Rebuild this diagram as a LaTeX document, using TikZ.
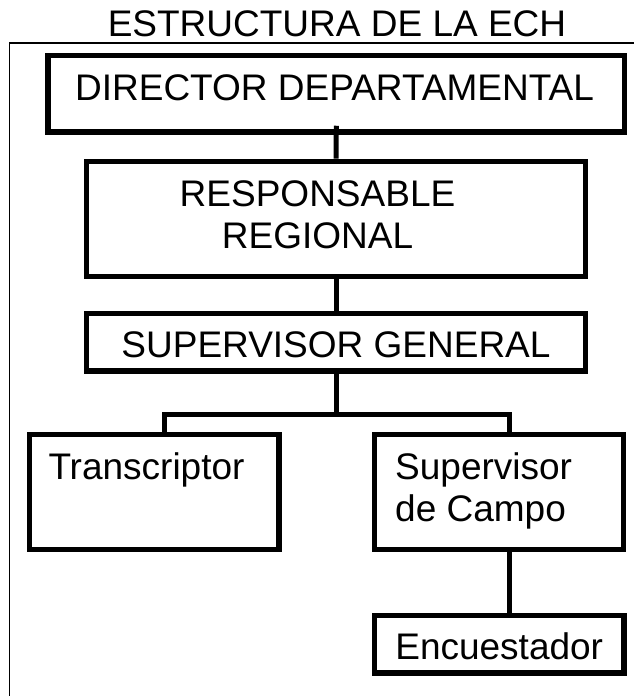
\documentclass[tikz,border=0pt]{standalone}
\usepackage{fontspec}
\setmainfont{Liberation Sans}
\begin{document}
\begin{tikzpicture}[x=1pt,y=1pt,
  box/.style={draw=black, line width=5.5pt, rectangle, inner sep=0pt, minimum width=#1},
  lbl/.style={inner sep=0pt, font=\fontsize{37}{41.7}\selectfont},
  conn/.style={draw=black, line width=5pt},
  frame/.style={draw=black, line width=1.7pt}]
\useasboundingbox (0,0) rectangle (634,-696);
% frame
\coordinate (fbl) at (9.5,-696);
\coordinate (ftl) at (9.5,-43);
\coordinate (ftr) at (634,-43);
\draw[frame] (fbl) -- (ftl) -- (ftr);
% title
\node[lbl, anchor=base] (title) at (337,-36.7) {ESTRUCTURA DE LA ECH};
% boxes
\node[box=576.5pt, minimum height=76.5pt] (dir) at (336.25,-93.55) {};
\node[box=498.6pt, minimum height=115pt] (resp) at (336,-218.8) {};
\node[box=498.6pt, minimum height=57.3pt] (sg) at (336,-342.15) {};
\node[box=249.3pt, minimum height=115.1pt] (trans) at (154.15,-492.05) {};
\node[box=249pt, minimum height=115.1pt] (sdc) at (499,-492.05) {};
\node[box=249.5pt, minimum height=57.5pt] (enc) at (499.25,-644.25) {};
% texts
\node[lbl, anchor=base] (tdir) at (334.5,-100) {DIRECTOR DEPARTAMENTAL};
\node[lbl, anchor=north, align=center] (tresp) at (317.5,-180.8) {RESPONSABLE\\REGIONAL};
\node[lbl, anchor=base] (tsg) at (336,-357.7) {SUPERVISOR GENERAL};
\node[lbl, anchor=base west] (ttrans) at (48.3,-479.3) {Transcriptor};
\node[lbl, anchor=north west, align=left] (tsdc) at (395,-452.5) {Supervisor\\de Campo};
\node[lbl, anchor=base] (tenc) at (499.2,-659.3) {Encuestador};
% connectors
\draw[conn, shorten <=-8.8pt] (dir.south) -- (resp.north);
\draw[conn] (resp.south) -- (sg.north);
\coordinate (bl) at (164,-414);
\coordinate (br) at (509,-414);
\draw[conn] (sg.south) -- (sg.south |- bl);
\draw[conn, line join=miter] (bl |- trans.north) -- (bl) -- (br) -- (br |- sdc.north);
\draw[conn] (br |- sdc.south) -- (br |- enc.north);
\end{tikzpicture}
\end{document}
